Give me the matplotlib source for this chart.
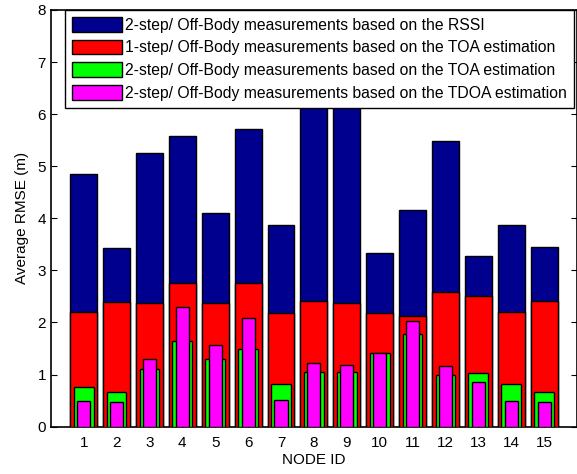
import numpy as np
import matplotlib
matplotlib.use("Agg")
import matplotlib.pyplot as plt

plt.rcParams["font.family"] = ["Liberation Sans", "DejaVu Sans"]

# ── Data ──────────────────────────────────────────────────────────────────────
nodes = np.arange(1, 16)
rssi_2step = [4.85, 3.43, 5.26, 5.58, 4.11, 5.72, 3.87, 6.9, 6.8,
              3.34, 4.16, 5.49, 3.27, 3.87, 3.44]
toa_1step = [2.20, 2.39, 2.37, 2.76, 2.37, 2.76, 2.18, 2.41, 2.37,
             2.18, 2.13, 2.58, 2.51, 2.20, 2.41]
toa_2step = [0.76, 0.67, 1.11, 1.65, 1.30, 1.49, 0.81, 1.04, 1.04,
             1.42, 1.77, 1.00, 1.02, 0.81, 0.67]
tdoa_2step = [0.49, 0.47, 1.30, 2.30, 1.56, 2.09, 0.51, 1.23, 1.18,
              1.41, 2.02, 1.16, 0.86, 0.50, 0.47]
labels = ["2-step/ Off-Body measurements based on the RSSI",
          "1-step/ Off-Body measurements based on the TOA estimation",
          "2-step/ Off-Body measurements based on the TOA estimation",
          "2-step/ Off-Body measurements based on the TDOA estimation"]

fig = plt.figure(figsize=(5.77, 4.74), dpi=100)
ax = fig.add_axes([0.088, 0.10, 0.912, 0.879])

kw = dict(edgecolor="black", linewidth=1.0)
ax.bar(nodes, rssi_2step, 0.82, color="#00008F", label=labels[0], zorder=2, **kw)
ax.bar(nodes, toa_1step, 0.82, color="#FF0000", label=labels[1], zorder=3, **kw)
ax.bar(nodes, toa_2step, 0.6, color="#00FF00", label=labels[2], zorder=4, **kw)
ax.bar(nodes, tdoa_2step, 0.4, color="#FF00FF", label=labels[3], zorder=5, **kw)

ax.set_xlim(0, 16)
ax.set_ylim(0, 8)
ax.set_xticks(nodes)
ax.set_yticks(range(0, 9))
ax.tick_params(direction="in", top=True, right=True, labelsize=11, length=4)
ax.tick_params(axis="x", pad=7)
for s in ax.spines.values():
    s.set_linewidth(1.2)

ax.set_xlabel("NODE ID", fontsize=11, labelpad=2)
ax.set_ylabel("Average RMSE (m)", fontsize=11, labelpad=6)

# legend box runs from near the y axis to the right edge, covering bars 8/9
leg = ax.legend(loc="upper left", bbox_to_anchor=(0.027, 1.0), fontsize=11.3,
                handlelength=3.2, handleheight=1.05, borderaxespad=0,
                labelspacing=0.45, handletextpad=0.2, fancybox=False,
                framealpha=1, edgecolor="black", borderpad=0.45)
leg.get_frame().set_linewidth(1.0)
leg.set_zorder(10)

plt.savefig("out.png", dpi=100)
plt.close()
